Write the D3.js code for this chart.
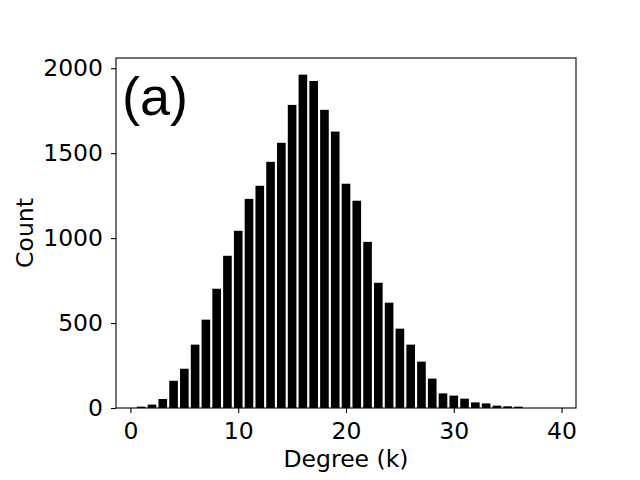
<!DOCTYPE html>
<html>
<head>
<meta charset="utf-8">
<script src="https://cdn.jsdelivr.net/npm/d3@7"></script>
<style>
  body { margin: 0; background: #fff; }
</style>
</head>
<body>
<script>
// degree histogram
const degrees = [1, 2, 3, 4, 5, 6, 7, 8, 9, 10, 11, 12, 13, 14, 15, 16, 17, 18, 19, 20,
                 21, 22, 23, 24, 25, 26, 27, 28, 29, 30, 31, 32, 33, 34, 35, 36, 37, 38, 39];
const counts = [8, 20, 53, 160, 231, 373, 520, 702, 896, 1043, 1231, 1308, 1449, 1561, 1784, 1962, 1925, 1755, 1627, 1320,
                1220, 978, 737, 620, 467, 373, 273, 173, 86, 73, 55, 33, 27, 14, 10, 8, 0, 0, 0];
const xTicks = [0, 10, 20, 30, 40];
const yTicks = [0, 500, 1000, 1500, 2000];

const width = 640, height = 480;
const margin = {top: 58, right: 64, bottom: 72, left: 116};
const innerW = width - margin.left - margin.right;
const innerH = height - margin.top - margin.bottom;
const barWidth = 0.8;
const font = "'DejaVu Sans', sans-serif";

// matplotlib-style 5% margins around the bars
const lo = d3.min(degrees) - barWidth / 2, hi = d3.max(degrees) + barWidth / 2;
const pad = 0.05 * (hi - lo);

const x = d3.scaleLinear()
    .domain([lo - pad, hi + pad])
    .range([0, innerW]);

const y = d3.scaleLinear()
    .domain([0, d3.max(counts) * 1.05])
    .range([innerH, 0]);

const svg = d3.select("body").append("svg")
    .attr("width", width)
    .attr("height", height);

const g = svg.append("g")
    .attr("transform", `translate(${margin.left},${margin.top})`);

g.append("g")
  .selectAll("rect")
  .data(degrees)
  .join("rect")
    .attr("x", d => x(d - barWidth / 2))
    .attr("width", d => x(d + barWidth / 2) - x(d - barWidth / 2))
    .attr("y", (d, i) => y(counts[i]))
    .attr("height", (d, i) => y(0) - y(counts[i]))
    .attr("fill", "#000");

const xAxis = g.append("g")
    .attr("transform", `translate(0,${innerH})`)
    .call(d3.axisBottom(x).tickValues(xTicks).tickSize(5).tickPadding(9).tickFormat(d3.format("d")));

const yAxis = g.append("g")
    .call(d3.axisLeft(y).tickValues(yTicks).tickSize(5).tickPadding(8).tickFormat(d3.format("d")));

[xAxis, yAxis].forEach(a => {
  a.select(".domain").remove();
  a.selectAll("line").attr("stroke", "#000").attr("stroke-width", 1.1);
  a.selectAll("text")
      .attr("fill", "#000")
      .style("font-family", font)
      .style("font-size", "23.5px");
});

// frame
g.append("rect")
    .attr("width", innerW)
    .attr("height", innerH)
    .attr("fill", "none")
    .attr("stroke", "#000")
    .attr("stroke-width", 1.1);

svg.append("text")
    .attr("x", margin.left + innerW / 2)
    .attr("y", 467)
    .attr("text-anchor", "middle")
    .style("font-family", font)
    .style("font-size", "23.5px")
    .text("Degree (k)");

svg.append("text")
    .attr("transform", `translate(33,${margin.top + innerH / 2}) rotate(-90)`)
    .attr("text-anchor", "middle")
    .style("font-family", font)
    .style("font-size", "23.5px")
    .text("Count");

svg.append("text")
    .attr("x", 122)
    .attr("y", 115)
    .style("font-family", "'Liberation Sans', Arial, sans-serif")
    .style("font-size", "54px")
    .text("(a)");
</script>
</body>
</html>
